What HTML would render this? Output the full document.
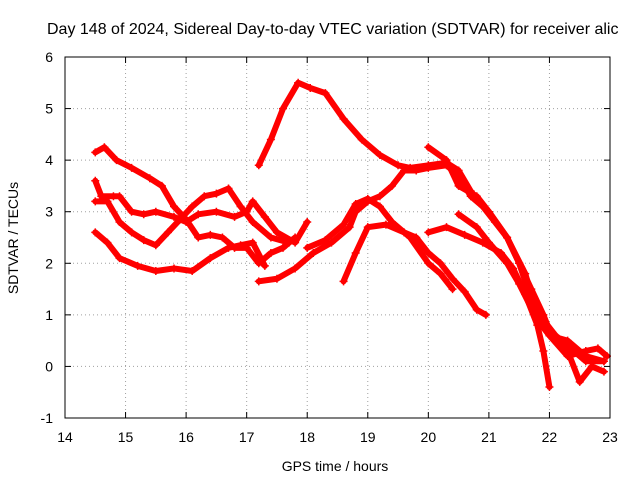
<!DOCTYPE html>
<html><head><meta charset="utf-8"><style>
body{margin:0;background:#fff}
svg text{font-family:"Liberation Sans",sans-serif;font-size:14px;fill:#000}
</style></head><body>
<svg id="c" width="640" height="480">
<text x="47" y="34" style="font-size:16px">Day 148 of 2024, Sidereal Day-to-day VTEC variation (SDTVAR) for receiver alic</text>
<text x="335" y="471" text-anchor="middle">GPS time / hours</text>
<text transform="translate(18,238) rotate(-90)" text-anchor="middle">SDTVAR / TECUs</text>
<g id="grid"></g><g id="series"></g>
<rect x="65" y="57" width="545" height="361" fill="none" stroke="#000"/>
</svg>
<script>
const xTicks=[14,15,16,17,18,19,20,21,22,23];
const yTicks=[-1,0,1,2,3,4,5,6];
const t1=[[14.5,4.15],[14.65,4.25],[14.85,4.0],[15.1,3.85],[15.4,3.65],[15.6,3.5],[15.8,3.1],[16.0,2.85],[16.2,2.5],[16.4,2.55],[16.6,2.5],[16.8,2.3],[17.0,2.3],[17.2,2.0],[17.4,2.2],[17.6,2.3],[17.8,2.5]];
const t2=[[14.5,3.6],[14.6,3.3],[14.8,3.3],[14.9,3.3],[15.1,3.0],[15.3,2.95],[15.5,3.0],[15.8,2.9],[16.0,2.8],[16.2,2.95],[16.5,3.0],[16.8,2.9],[17.0,3.0],[17.1,3.2],[17.3,2.9],[17.5,2.6],[17.8,2.4],[18.0,2.8]];
const t3=[[14.5,3.2],[14.7,3.2],[14.9,2.8],[15.1,2.6],[15.3,2.45],[15.5,2.35],[15.7,2.6],[15.9,2.85],[16.1,3.1],[16.3,3.3],[16.5,3.35],[16.7,3.45],[16.9,3.1],[17.1,2.8],[17.4,2.5],[17.7,2.4]];
const t4=[[14.5,2.6],[14.7,2.4],[14.9,2.1],[15.2,1.95],[15.5,1.85],[15.8,1.9],[16.1,1.85],[16.4,2.1],[16.7,2.3],[16.9,2.35],[17.1,2.4],[17.3,1.95]];
const t5=[[17.2,1.65],[17.5,1.7],[17.8,1.9],[18.1,2.2],[18.4,2.4],[18.7,2.7],[18.8,3.0],[19.0,3.2],[19.2,3.3],[19.4,3.5],[19.6,3.8],[19.8,3.8],[20.0,3.85],[20.3,3.9],[20.5,3.7],[20.7,3.3],[21.0,3.0],[21.3,2.5],[21.6,1.8],[21.8,1.0],[22.0,0.6],[22.3,0.5],[22.6,0.2],[22.9,0.1]];
const t6=[[17.2,3.9],[17.4,4.4],[17.6,5.0],[17.85,5.5],[18.05,5.4],[18.3,5.3],[18.6,4.8],[18.9,4.4],[19.2,4.1],[19.5,3.9],[19.7,3.85],[20.0,3.9],[20.3,3.95],[20.5,3.8],[20.7,3.4],[20.9,3.1],[21.1,2.8],[21.3,2.5],[21.5,2.0],[21.7,1.5],[21.9,1.0],[22.0,0.7],[22.2,0.5],[22.4,0.3],[22.6,0.1],[22.9,0.1]];
const t7=[[18.6,1.65],[18.8,2.2],[19.0,2.7],[19.3,2.75],[19.6,2.6],[19.8,2.5],[20.0,2.2],[20.2,2.0],[20.4,1.7],[20.6,1.45],[20.8,1.1],[20.95,1.0]];
const t8=[[18.0,2.3],[18.3,2.45],[18.6,2.75],[18.8,3.15],[19.0,3.25],[19.2,3.1],[19.4,2.8],[19.7,2.5],[20.0,2.0],[20.2,1.8],[20.4,1.5]];
const t9=[[20.0,2.6],[20.3,2.7],[20.6,2.55],[20.9,2.4],[21.2,2.2],[21.4,1.9],[21.6,1.4],[21.8,0.8],[21.9,0.3],[22.0,-0.4]];
const t10=[[20.0,4.25],[20.3,4.0],[20.5,3.5],[20.8,3.3],[21.0,3.0],[21.3,2.5],[21.5,2.0],[21.7,1.3],[21.9,0.9],[22.1,0.6],[22.3,0.3],[22.5,-0.3],[22.7,0.0],[22.9,-0.1]];
const t11=[[20.5,2.95],[20.8,2.7],[21.0,2.4],[21.3,2.0],[21.5,1.6],[21.8,0.9],[22.0,0.6],[22.3,0.2],[22.6,0.3],[22.8,0.35],[22.95,0.2]];
const tracks=[t1,t2,t3,t4,t5,t6,t7,t8,t9,t10,t11];
const X0=65,X1=610,Y0=418,Y1=57;
const sx=v=>X0+(v-14)/(23-14)*(X1-X0);
const sy=v=>Y0-(v+1)/7*(Y0-Y1);
const NS="http://www.w3.org/2000/svg";
const g=document.getElementById('grid'),sg=document.getElementById('series');
function mk(tag,at,par){const e=document.createElementNS(NS,tag);for(const k in at)e.setAttribute(k,at[k]);par.appendChild(e);return e;}
xTicks.forEach(t=>{const x=sx(t);
 if(t>14&&t<23){const l=mk('line',{x1:x,x2:x,y1:Y1,y2:Y0,stroke:'#a0a0a0','stroke-dasharray':'1,3'},g);}
 mk('line',{x1:x,x2:x,y1:Y0,y2:Y0-6,stroke:'#000'},g);mk('line',{x1:x,x2:x,y1:Y1,y2:Y1+6,stroke:'#000'},g);
 const tx=mk('text',{x:x,y:Y0+24,'text-anchor':'middle'},g);tx.textContent=t;
 });
yTicks.forEach(t=>{const y=sy(t);
 if(t>-1&&t<6){const l=mk('line',{x1:X0,x2:X1,y1:y,y2:y,stroke:'#a0a0a0','stroke-dasharray':'1,3'},g);}
 mk('line',{x1:X0,x2:X0+6,y1:y,y2:y,stroke:'#000'},g);mk('line',{x1:X1,x2:X1-6,y1:y,y2:y,stroke:'#000'},g);
 const tx=mk('text',{x:X0-12,y:y+5,'text-anchor':'end'},g);tx.textContent=t;
 });
tracks.forEach((tr,i)=>{
 const p=mk('polyline',{points:tr.map(d=>sx(d[0])+','+sy(d[1])).join(' '),fill:'none',stroke:'#f00','stroke-width':6,'stroke-linejoin':'round','stroke-linecap':'round'},sg);
 
 
 tr.forEach(d=>{const x=sx(d[0]),y=sy(d[1]);
  const m=mk('path',{d:`M${x-4} ${y}H${x+4}M${x} ${y-4}V${y+4}`,stroke:'#f00','stroke-width':1.5},sg);
  
  });
});
</script>
</body></html>
